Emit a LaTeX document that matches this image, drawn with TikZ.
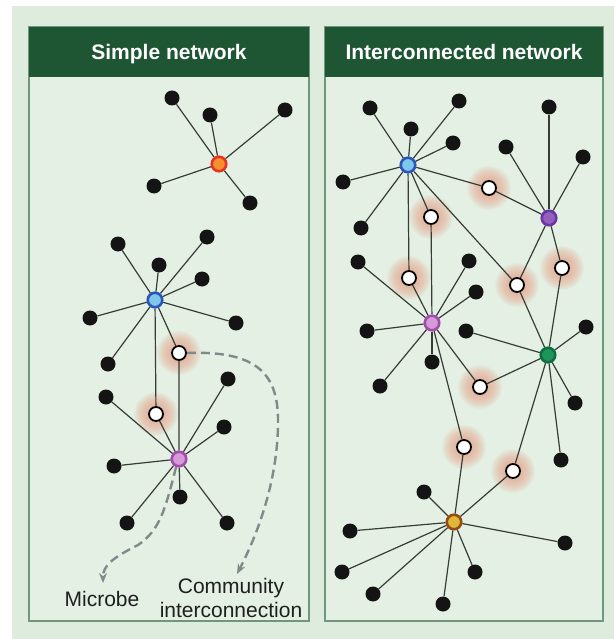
\documentclass[tikz,border=0pt]{standalone}
\usepackage{fontspec}
\setmainfont{Liberation Sans}
\usetikzlibrary{arrows.meta}
\definecolor{pagebg}{RGB}{221,236,221}
\definecolor{panelbg}{RGB}{227,240,227}
\definecolor{panelrule}{RGB}{112,150,125}
\definecolor{headgreen}{RGB}{30,86,52}
\definecolor{halocol}{RGB}{236,160,135}
\definecolor{spokecol}{RGB}{55,60,55}
\definecolor{dashgray}{RGB}{128,138,138}
\definecolor{orangering}{RGB}{228,52,40}
\definecolor{orangefill}{RGB}{245,145,45}
\definecolor{bluering}{RGB}{45,85,185}
\definecolor{bluefill}{RGB}{125,200,235}
\definecolor{mauvering}{RGB}{165,75,175}
\definecolor{mauvefill}{RGB}{212,155,212}
\definecolor{violetring}{RGB}{105,55,165}
\definecolor{violetfill}{RGB}{150,95,190}
\definecolor{greenring}{RGB}{15,110,65}
\definecolor{greenfill}{RGB}{30,150,90}
\definecolor{goldring}{RGB}{150,75,20}
\definecolor{goldfill}{RGB}{222,185,55}
\tikzset{
  leaf/.style={circle,fill=black!92,inner sep=0pt,minimum size=15pt},
  hub/.style 2 args={circle,draw=#1,fill=#2,line width=2.6pt,inner sep=0pt,minimum size=14.5pt},
  bridge/.style={circle,draw=black,fill=white,line width=1.8pt,inner sep=0pt,minimum size=14pt},
  link/.style={draw=spokecol,line width=1.2pt},
  pointer/.style={draw=dashgray,line width=2.4pt,dash pattern=on 9pt off 5pt,-{Stealth[length=10pt,width=8pt]}},
  headtext/.style={anchor=base,text=white,font=\fontsize{21pt}{25pt}\selectfont\bfseries},
  labeltext/.style={font=\fontsize{21pt}{24pt}\selectfont,text=black!88}
}
\begin{document}
\begin{tikzpicture}[x=1pt,y=-1pt]
\fill [white] (0,0) rectangle (614,639);
\fill [pagebg] (12,6) rectangle (614,639);

\newcommand\bridgeat[3]{%
\foreach \r in {9,...,22} {\fill [halocol,opacity=.07] (#2,#3) circle (\r);}%
\node [bridge] (#1) at (#2,#3) {};%
}
\newcommand\spoke[4]{%
\node [leaf] (#2) at (#3,#4) {};%
\draw [link] (#1) -- (#2);%
}

% panels
\filldraw [fill=panelbg,draw=panelrule,line width=1.2pt] (29,27) rectangle (309,621);
\filldraw [fill=panelbg,draw=panelrule,line width=1.2pt] (325,27) rectangle (603,621);
\fill [headgreen] (29,27) rectangle (309,77);
\fill [headgreen] (325,27) rectangle (603,77);
\node [headtext] (titleL) at (169,60) {Simple network};
\node [headtext] (titleR) at (464,60) {Interconnected network};

% simple network
\bridgeat{gA}{179}{353}
\bridgeat{gB}{156}{414}
\node [hub={orangering}{orangefill}] (hubO) at (219,164) {};
\node [hub={bluering}{bluefill}] (hubB) at (155,300) {};
\node [hub={mauvering}{mauvefill}] (hubP) at (179,459) {};
\spoke{hubO}{o1}{172}{98}
\spoke{hubO}{o2}{210}{115}
\spoke{hubO}{o3}{285}{110}
\spoke{hubO}{o4}{154}{186}
\spoke{hubO}{o5}{250}{203}
\spoke{hubB}{b1}{118}{244}
\spoke{hubB}{b2}{159}{265}
\spoke{hubB}{b3}{207}{237}
\spoke{hubB}{b4}{202}{279}
\spoke{hubB}{b5}{236}{323}
\spoke{hubB}{b6}{90}{318}
\spoke{hubB}{b7}{108}{364}
\spoke{hubP}{p1}{106}{397}
\spoke{hubP}{p2}{228}{379}
\spoke{hubP}{p3}{224}{427}
\spoke{hubP}{p4}{114}{466}
\spoke{hubP}{p5}{127}{523}
\spoke{hubP}{p6}{180}{497}
\spoke{hubP}{p7}{227}{523}
\draw [link] (hubB) -- (gA) -- (hubP);
\draw [link] (hubB) -- (gB) -- (hubP);

\draw [pointer] (gA.east) .. controls (262,350) and (279,378) .. (278,425) .. controls (277,490) and (252,545) .. (237,574);
\draw [pointer] (hubP.250) .. controls (165,510) and (160,530) .. (138,545) .. controls (112,558) and (103,566) .. (103,583);
\node [labeltext,anchor=base] (microbe) at (102,606) {Microbe};
\node [labeltext,anchor=north,align=center,inner sep=0pt] (community) at (231,578) {Community\\interconnection};

% interconnected network
\bridgeat{g1}{489}{188}
\bridgeat{g2}{431}{217}
\bridgeat{g3}{409}{278}
\bridgeat{g4}{517}{285}
\bridgeat{g5}{562}{268}
\bridgeat{g6}{480}{387}
\bridgeat{g7}{464}{447}
\bridgeat{g8}{513}{471}
\node [hub={bluering}{bluefill}] (hubD) at (408,165) {};
\node [hub={violetring}{violetfill}] (hubV) at (549,218) {};
\node [hub={mauvering}{mauvefill}] (hubM) at (432,323) {};
\node [hub={greenring}{greenfill}] (hubE) at (548,355) {};
\node [hub={goldring}{goldfill}] (hubY) at (454,522) {};
\spoke{hubD}{d1}{370}{108}
\spoke{hubD}{d2}{411}{129}
\spoke{hubD}{d3}{459}{101}
\spoke{hubD}{d4}{453}{143}
\spoke{hubD}{d5}{343}{182}
\spoke{hubD}{d6}{361}{228}
\spoke{hubV}{v1}{549}{107}
\spoke{hubV}{v2}{506}{147}
\spoke{hubV}{v3}{583}{157}
\spoke{hubM}{m1}{358}{262}
\spoke{hubM}{m2}{469}{261}
\spoke{hubM}{m3}{476}{292}
\spoke{hubM}{m4}{367}{331}
\spoke{hubM}{m5}{380}{386}
\spoke{hubM}{m6}{432}{362}
\spoke{hubE}{e1}{466}{331}
\spoke{hubE}{e2}{586}{327}
\spoke{hubE}{e3}{575}{403}
\spoke{hubE}{e4}{561}{460}
\spoke{hubY}{y1}{424}{492}
\spoke{hubY}{y2}{565}{543}
\spoke{hubY}{y3}{475}{572}
\spoke{hubY}{y4}{443}{604}
\spoke{hubY}{y5}{350}{531}
\spoke{hubY}{y6}{342}{572}
\spoke{hubY}{y7}{373}{594}
\draw [link] (hubD) -- (g1) -- (hubV);
\draw [link] (hubD) -- (g2) -- (hubM);
\draw [link] (hubD) -- (g3) -- (hubM);
\draw [link] (hubD) -- (g4) -- (hubE);
\draw [link] (hubV) -- (g4);
\draw [link] (hubV) -- (g5) -- (hubE);
\draw [link] (hubM) -- (g6) -- (hubE);
\draw [link] (hubM) -- (g7) -- (hubY);
\draw [link] (hubE) -- (g8) -- (hubY);
\end{tikzpicture}
\end{document}
